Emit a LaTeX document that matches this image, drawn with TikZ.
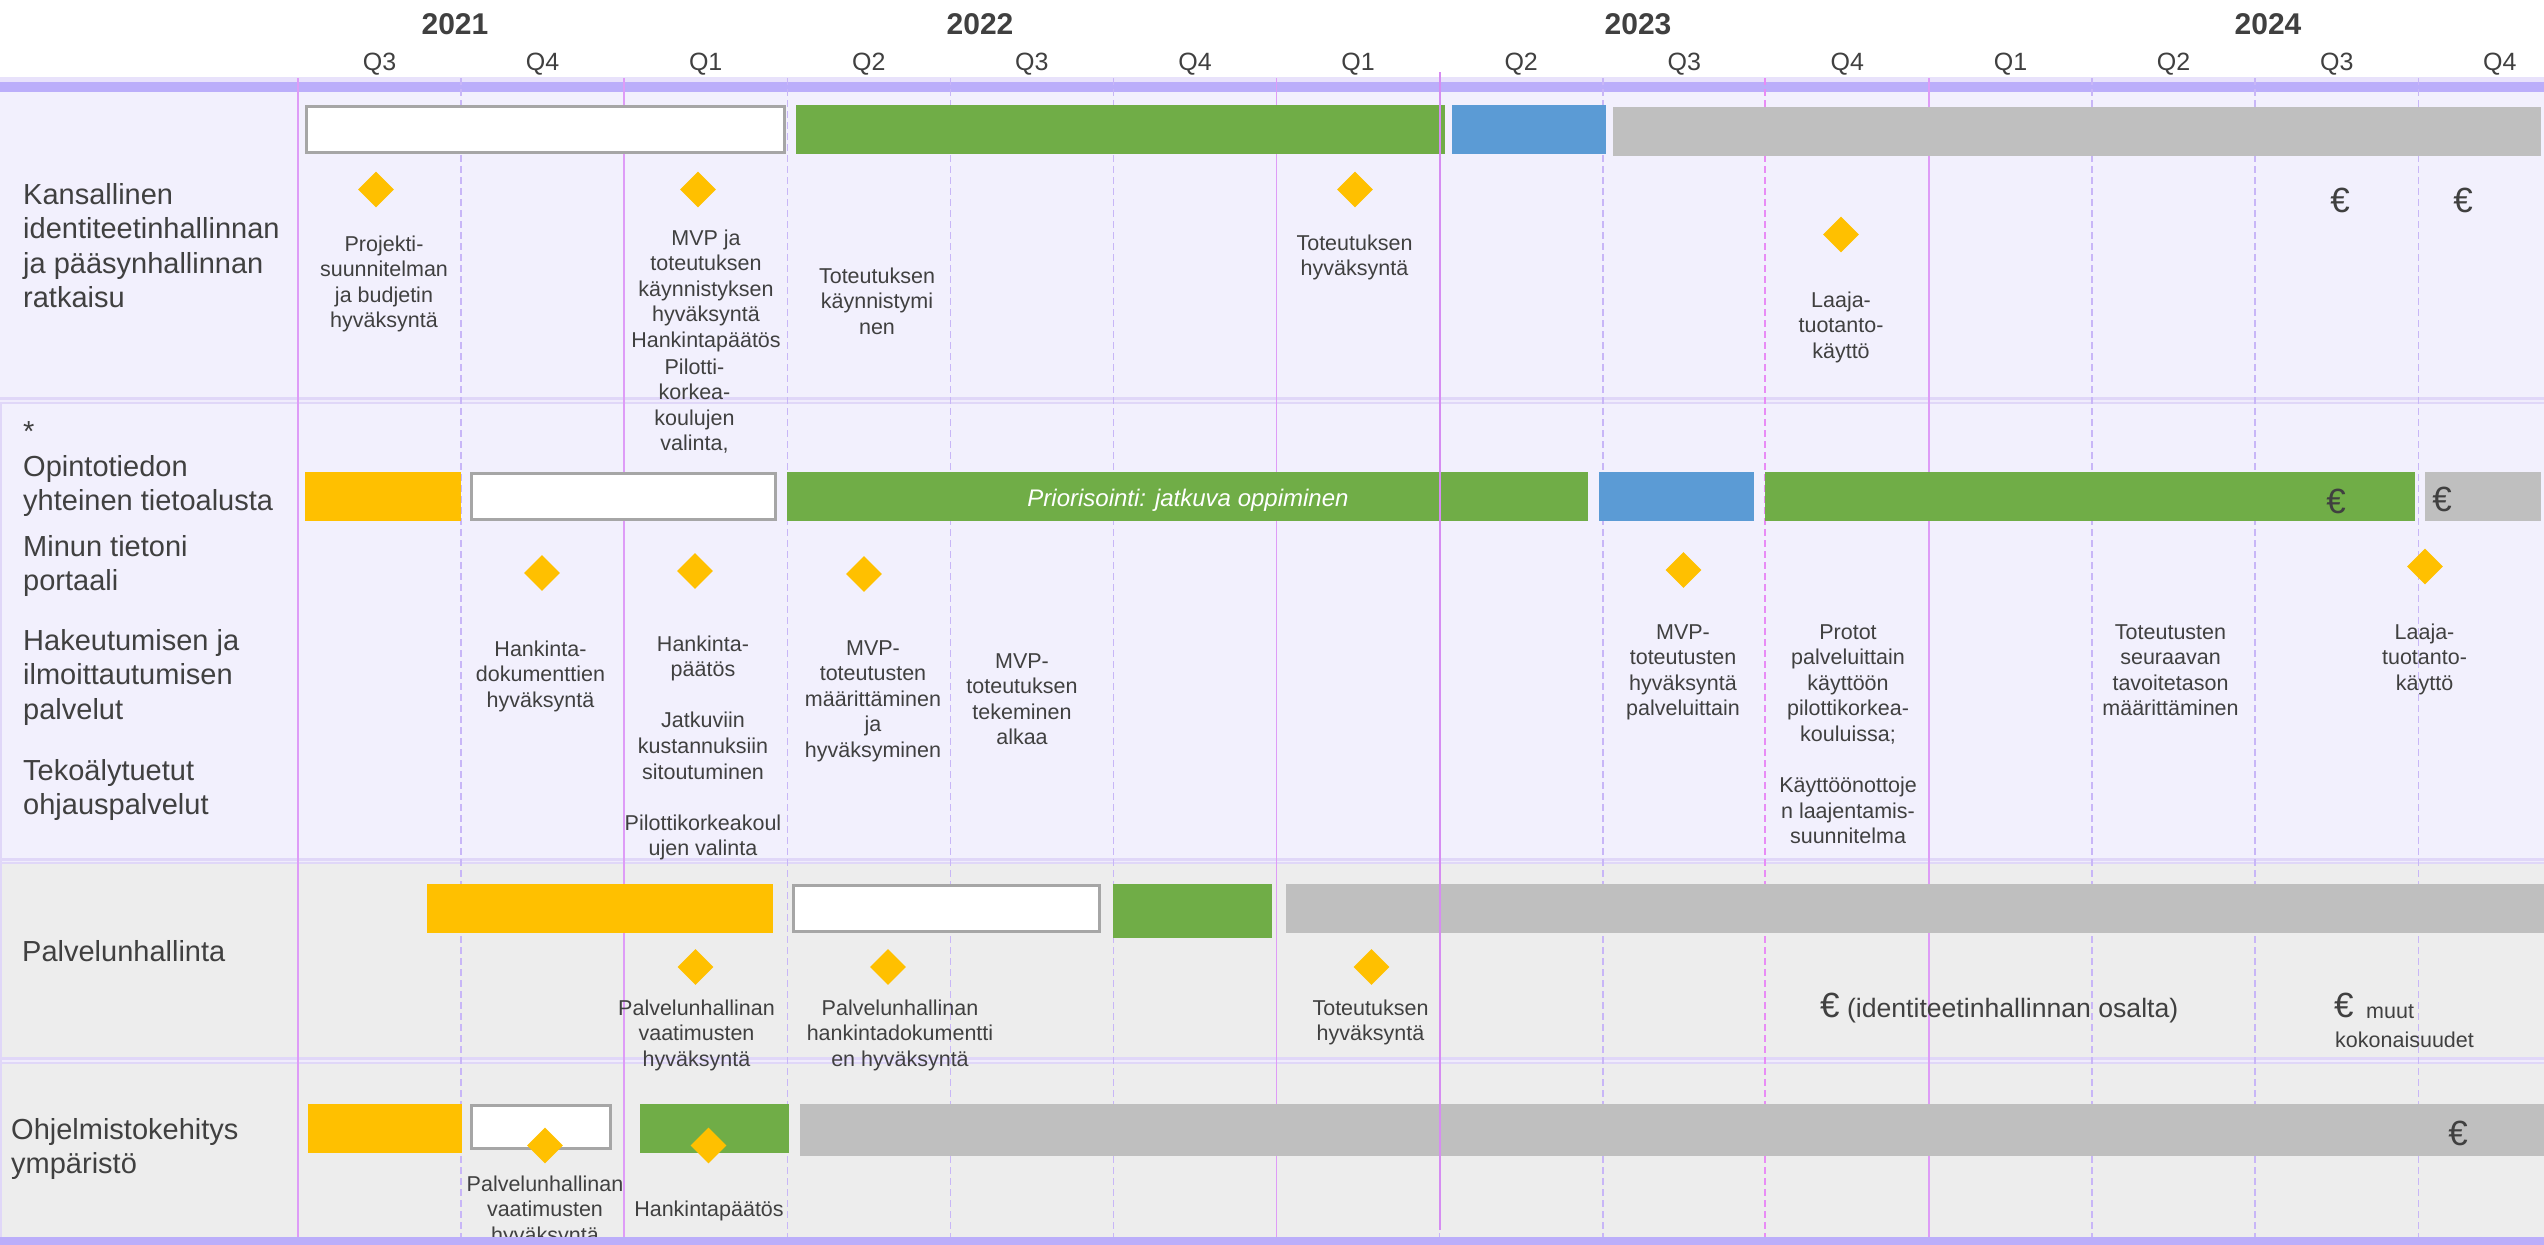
\documentclass[tikz,border=0pt]{standalone}
\usepackage{fontspec}
\setmainfont{Liberation Sans}
\usetikzlibrary{shapes.geometric}
\definecolor{bandc}{RGB}{187,174,250}
\definecolor{bandlight}{RGB}{232,226,251}
\definecolor{rowa}{RGB}{242,240,253}
\definecolor{rowb}{RGB}{237,237,237}
\definecolor{sepc}{RGB}{224,215,248}
\definecolor{seplight}{RGB}{240,236,252}
\definecolor{solidl}{RGB}{222,156,247}
\definecolor{dashl}{RGB}{200,182,247}
\definecolor{pinkdash}{RGB}{232,140,245}
\definecolor{todayl}{RGB}{214,140,242}
\definecolor{ggreen}{RGB}{112,173,71}
\definecolor{gblue}{RGB}{91,155,213}
\definecolor{gyellow}{RGB}{255,192,0}
\definecolor{ggray}{RGB}{191,191,191}
\definecolor{goutline}{RGB}{166,166,166}
\definecolor{txt}{RGB}{64,64,64}
\begin{document}
\begin{tikzpicture}[x=1pt,y=-1pt,
  lbl/.style={font=\fontsize{21.5}{25.6}\selectfont, text=txt, align=center, inner sep=0pt, anchor=base},
  head/.style={font=\fontsize{29}{34.5}\selectfont, text=txt, align=left, inner sep=0pt, anchor=base west},
  yearlbl/.style={font=\fontsize{30}{34}\selectfont\bfseries, text=txt, inner sep=0pt, anchor=base},
  qlbl/.style={font=\fontsize{25}{30}\selectfont, text=txt, inner sep=0pt, anchor=base},
  ms/.style={diamond, fill=gyellow, draw=none, minimum width=36pt, minimum height=36pt, inner sep=0pt},
  eur/.style={font=\fontsize{35}{40}\selectfont, text=txt, inner sep=0pt, anchor=base},
  solidgrid/.style={solidl, line width=1.5pt},
  dashgrid/.style={dashl, line width=1.5pt, dash pattern=on 7pt off 4pt},
  pinkgrid/.style={pinkdash, line width=1.5pt, dash pattern=on 7pt off 4pt},
  openbar/.style={fill=white, draw=goutline, line width=3pt}
]
\useasboundingbox (0,0) rectangle (2544,1245);
\fill[white] (0,0) rectangle (2544,1245);
% header band
\fill[bandlight] (0,77) rectangle (2544,82);
\fill[bandc] (0,82) rectangle (2544,92);
% row backgrounds
\fill[rowa] (0,92) rectangle (2544,397);
\fill[rowa] (0,404) rectangle (2544,858);
\fill[rowb] (0,864) rectangle (2544,1058);
\fill[rowb] (0,1063) rectangle (2544,1237);
% separators
\fill[sepc] (0,397) rectangle (2544,404);
\fill[seplight] (0,400) rectangle (2544,401.5);
\fill[sepc] (0,858) rectangle (2544,864);
\fill[seplight] (0,860.5) rectangle (2544,862);
\fill[sepc] (0,1057) rectangle (2544,1064);
\fill[seplight] (0,1060) rectangle (2544,1061.5);
\draw[sepc, line width=2pt] (1,404) -- (1,1237);
% grid lines
\foreach \xx in {298,624.2,1276.6,1929}{\draw[solidgrid] (\xx,78) -- (\xx,1237);}
\foreach \xx in {461.1,787.3,950.4,1113.5,1439.7,1602.8,2092.1,2255.2,2418.3}{\draw[dashgrid] (\xx,78) -- (\xx,1237);}
\draw[pinkgrid] (1765,78) -- (1765,1237);
% years and quarters
\node[yearlbl] (y21) at (455,34) {2021};
\node[yearlbl] (y22) at (980,34) {2022};
\node[yearlbl] (y23) at (1638,34) {2023};
\node[yearlbl] (y24) at (2268,34) {2024};
\foreach \q [count=\i from 0] in {Q3,Q4,Q1,Q2,Q3,Q4,Q1,Q2,Q3,Q4,Q1,Q2,Q3,Q4}{
  \node[qlbl] (q\i) at (379.5+163.1*\i,70) {\q};
}
% ---- row 1 bars
\filldraw[openbar] (306.5,106.5) rectangle (784.5,152.5);
\fill[ggreen] (796,105) rectangle (1445,154);
\fill[gblue] (1452,105) rectangle (1606,154);
\fill[ggray] (1613,107) rectangle (2541,156);
% ---- row 2 bars
\fill[gyellow] (305,472) rectangle (461,521);
\filldraw[openbar] (471.5,473.5) rectangle (775.5,519.5);
\fill[ggreen] (787,472) rectangle (1588,521);
\fill[gblue] (1599,472) rectangle (1754,521);
\fill[ggreen] (1765,472) rectangle (2415,521);
\fill[ggray] (2425,472) rectangle (2541,521);
% ---- row 3 bars
\fill[gyellow] (427,884) rectangle (773,933);
\filldraw[openbar] (793.5,885.5) rectangle (1099.5,931.5);
\fill[ggreen] (1113,884) rectangle (1272,938);
\fill[ggray] (1286,884) rectangle (2544,933);
% ---- row 4 bars
\fill[gyellow] (308,1104) rectangle (462,1153);
\filldraw[openbar] (471.5,1105.5) rectangle (610.5,1148.5);
\fill[ggreen] (640,1104) rectangle (789,1153);
\fill[ggray] (800,1104) rectangle (2544,1156);
% today line
\draw[todayl, line width=2pt] (1439.5,72) -- (1439.5,1230);
% bar texts and euros
\node[font=\fontsize{24}{28}\selectfont\itshape, text=white, inner sep=0pt, anchor=base] (prio) at (1188,506) {Priorisointi: jatkuva oppiminen};
\node[eur] (e1a) at (2340,212) {€};
\node[eur] (e1b) at (2463,212) {€};
\node[eur] (e2a) at (2336,513) {€};
\node[eur] (e2b) at (2442,511) {€};
\node[eur] (e4) at (2458,1145) {€};
% milestones
\node[ms] (d11) at (376,189.5) {};
\node[ms] (d12) at (698,189.5) {};
\node[ms] (d13) at (1355,189.5) {};
\node[ms] (d14) at (1841,234.5) {};
\node[ms] (d21) at (542,573) {};
\node[ms] (d22) at (695,571) {};
\node[ms] (d23) at (864,574) {};
\node[ms] (d24) at (1683.5,570) {};
\node[ms] (d25) at (2425,566.5) {};
\node[ms] (d31) at (695.5,967) {};
\node[ms] (d32) at (888,967) {};
\node[ms] (d33) at (1371.5,967) {};
\node[ms] (d41) at (545,1145.5) {};
\node[ms] (d42) at (708.5,1145.5) {};
% row headings (anchor = baseline of last line)
\node[head] (h1) at (23,307.5) {Kansallinen\\identiteetinhallinnan\\ja pääsynhallinnan\\ratkaisu};
\node[head] (h2a) at (23,510.5) {*\\Opintotiedon\\yhteinen tietoalusta};
\node[head] (h2b) at (23,590.5) {Minun tietoni\\portaali};
\node[head] (h2c) at (23,719) {Hakeutumisen ja\\ilmoittautumisen\\palvelut};
\node[head] (h2d) at (23,814.5) {Tekoälytuetut\\ohjauspalvelut};
\node[head] (h3) at (22,961) {Palvelunhallinta};
\node[head] (h4) at (11,1173.5) {Ohjelmistokehitys\\ympäristö};
% row 1 labels
\node[lbl] (t11) at (384,327.8) {Projekti-\\suunnitelman\\ja budjetin\\hyväksyntä};
\node[lbl] (t12) at (706,347.4) {MVP ja\\toteutuksen\\käynnistyksen\\hyväksyntä\\Hankintapäätös};
\node[lbl] (t12b) at (694.5,450.8) {Pilotti-\\korkea-\\koulujen\\valinta,};
\node[lbl] (t1x) at (877,334.2) {Toteutuksen\\käynnistymi\\nen};
\node[lbl] (t13) at (1354.5,275.6) {Toteutuksen\\hyväksyntä};
\node[lbl] (t14) at (1841,358.2) {Laaja-\\tuotanto-\\käyttö};
% row 2 labels
\node[lbl] (t21) at (540.5,707.2) {Hankinta-\\dokumenttien\\hyväksyntä};
\node[lbl] (t22) at (703,855.8) {Hankinta-\\päätös\\~\\Jatkuviin\\kustannuksiin\\sitoutuminen\\~\\Pilottikorkeakoul\\ujen valinta};
\node[lbl] (t23) at (873,757.4) {MVP-\\toteutusten\\määrittäminen\\ja\\hyväksyminen};
\node[lbl] (t2x) at (1022,744.8) {MVP-\\toteutuksen\\tekeminen\\alkaa};
\node[lbl] (t24) at (1683,715.8) {MVP-\\toteutusten\\hyväksyntä\\palveluittain};
\node[lbl] (t2y) at (1848,843.8) {Protot\\palveluittain\\käyttöön\\pilottikorkea-\\kouluissa;\\~\\Käyttöönottoje\\n laajentamis-\\suunnitelma};
\node[lbl] (t2z) at (2170.5,715.8) {Toteutusten\\seuraavan\\tavoitetason\\määrittäminen};
\node[lbl] (t25) at (2424.5,690.2) {Laaja-\\tuotanto-\\käyttö};
% row 3 labels
\node[lbl] (t31) at (696.5,1066.2) {Palvelunhallinan\\vaatimusten\\hyväksyntä};
\node[lbl] (t32) at (900,1066.2) {Palvelunhallinan\\hankintadokumentti\\en hyväksyntä};
\node[lbl] (t33) at (1370.5,1040.6) {Toteutuksen\\hyväksyntä};
\node[anchor=base west, inner sep=0pt, text=txt] (e3a) at (1820,1017) {\fontsize{35}{40}\selectfont €\fontsize{26.6}{30}\selectfont\ (identiteetinhallinnan osalta)};
\node[eur, anchor=base west] (e3b) at (2334,1017) {€};
\node[lbl, anchor=base west] (muut) at (2366,1018) {muut};
\node[lbl, anchor=base west] (kok) at (2335,1047) {kokonaisuudet};
% row 4 labels
\node[lbl] (t41) at (545,1242.2) {Palvelunhallinan\\vaatimusten\\hyväksyntä};
\node[lbl] (t42) at (709,1216) {Hankintapäätös};
% bottom band
\fill[bandc] (0,1237) rectangle (2544,1245);
\end{tikzpicture}
\end{document}
